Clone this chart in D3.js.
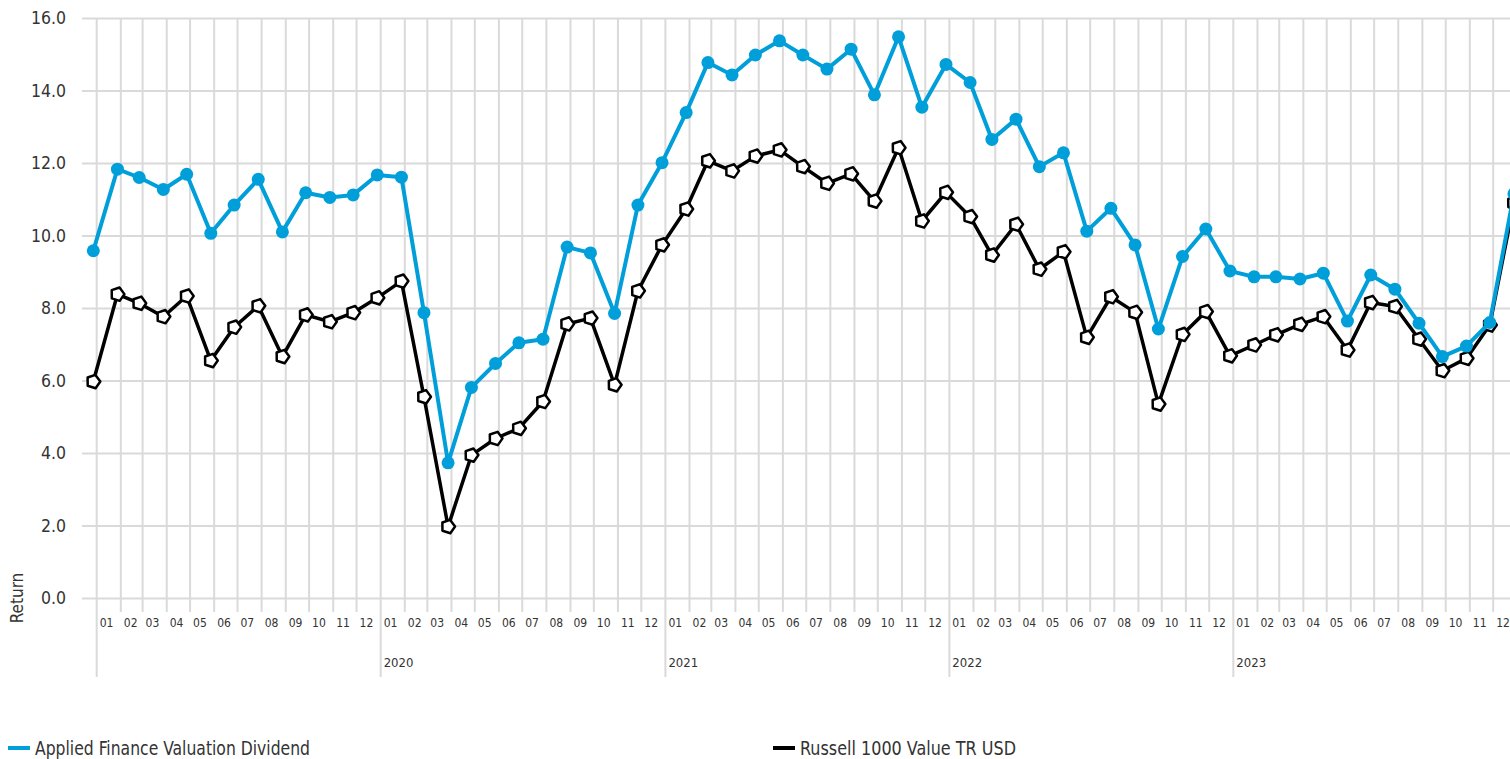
<!DOCTYPE html>
<html>
<head>
<meta charset="utf-8">
<script src="https://cdn.jsdelivr.net/npm/d3@7"></script>
<style>
  body { margin: 0; background: #fff; }
  text { font-family: "DejaVu Sans Condensed", "DejaVu Sans", sans-serif; font-stretch: condensed; fill: #333; }
</style>
</head>
<body>
<script>
// Data: month-end returns, Dec 2018 .. Dec 2023
var months = d3.range(0, 61).map(function (i) { return d3.timeFormat("%Y-%m")(new Date(2018, 11 + i, 1)); });

var afvd = [9.58, 11.83, 11.6, 11.27, 11.69, 10.06, 10.84, 11.55, 10.1, 11.18, 11.05, 11.12,
  11.67, 11.61, 7.87, 3.73, 5.81, 6.47, 7.04, 7.14, 9.68, 9.52, 7.85, 10.84,
  12.01, 13.39, 14.77, 14.43, 14.98, 15.37, 14.98, 14.59, 15.14, 13.88, 15.48, 13.54,
  14.72, 14.22, 12.65, 13.21, 11.9, 12.28, 10.12, 10.75, 9.74, 7.42, 9.42, 10.18,
  9.02, 8.86, 8.86, 8.8, 8.96, 7.64, 8.91, 8.52, 7.58, 6.66, 6.95, 7.6, 11.15];

var r1000v = [5.97, 8.38, 8.13, 7.76, 8.33, 6.55, 7.47, 8.06, 6.66, 7.81, 7.62, 7.87,
  8.28, 8.74, 5.55, 1.97, 3.94, 4.40, 4.68, 5.42, 7.56, 7.72, 5.88, 8.47,
  9.74, 10.73, 12.06, 11.78, 12.19, 12.36, 11.9, 11.44, 11.7, 10.95, 12.42, 10.4,
  11.19, 10.52, 9.46, 10.31, 9.07, 9.55, 7.19, 8.31, 7.88, 5.35, 7.27, 7.9,
  6.68, 6.98, 7.26, 7.55, 7.76, 6.84, 8.15, 8.04, 7.14, 6.27, 6.61, 7.53, 10.9];

var yTicks = [0, 2, 4, 6, 8, 10, 12, 14, 16];
var yearLabels = ["2020", "2021", "2022", "2023"];
var seriesNames = ["Applied Finance Valuation Dividend", "Russell 1000 Value TR USD"];

// Layout
var width = 1510, height = 759;
var plotLeft = 82, plotTop = 18, plotBottom = 598;
var blue = "#009fda";
var grid = "#dadada";

var parseMonth = d3.timeParse("%Y-%m");

var x = d3.scaleTime()
  .domain([new Date(2019, 0, 1), new Date(2024, 0, 1)])
  .range([96.7, 1517.3]);
var y = d3.scaleLinear().domain([0, 16]).range([plotBottom, plotTop]);

var svg = d3.select("body").append("svg")
  .attr("width", width)
  .attr("height", height);

// Horizontal grid + y labels
svg.append("g")
  .attr("transform", "translate(" + plotLeft + ",0)")
  .call(d3.axisLeft(y).tickValues(yTicks).tickFormat(d3.format(".1f"))
    .tickSize(-(width - plotLeft)).tickPadding(16))
  .call(function (g) {
    g.attr("font-family", null);
    g.select(".domain").remove();
    g.selectAll("line").attr("stroke", grid).attr("stroke-width", 2);
    g.selectAll("text").attr("font-size", 17.5).attr("fill", "#333");
  });

// Vertical month grid lines
var monthStarts = d3.timeMonth.range(new Date(2019, 0, 1), new Date(2024, 0, 1));

svg.append("g").selectAll("line")
  .data(monthStarts)
  .join("line")
  .attr("x1", function (d) { return x(d); })
  .attr("x2", function (d) { return x(d); })
  .attr("y1", plotTop)
  .attr("y2", function (d) { return d.getMonth() === 0 ? 677 : 612; })
  .attr("stroke", grid)
  .attr("stroke-width", 2);

// Month labels
svg.append("g").selectAll("text")
  .data(monthStarts)
  .join("text")
  .attr("x", function (d) { return x(d) + 3; })
  .attr("y", 627)
  .attr("font-size", 12)
  .text(d3.timeFormat("%m"));

// Year labels
svg.append("g").selectAll("text")
  .data(yearLabels)
  .join("text")
  .attr("x", function (d) { return x(new Date(+d, 0, 1)) + 3; })
  .attr("y", 667)
  .attr("font-size", 13)
  .text(function (d) { return d; });

// Y axis title
svg.append("text")
  .attr("transform", "translate(23," + plotBottom + ") rotate(-90)")
  .attr("text-anchor", "middle")
  .attr("font-size", 17)
  .text("Return");

// Points sit at month end, a little left of next month's grid line
var shift = -2.6;
function px(i) {
  var d = parseMonth(months[i]);
  return x(new Date(d.getFullYear(), d.getMonth() + 1, 0)) + shift;
}

var line = d3.line()
  .x(function (d, i) { return px(i); })
  .y(function (d) { return y(d); });

// Pentagon marker path
var pent = d3.range(5).map(function (k) {
  var a = -Math.PI / 2 + k * 2 * Math.PI / 5 + 0.3;
  return [7 * Math.cos(a), 7 * Math.sin(a)];
});
var pentPath = "M" + pent.join("L") + "Z";

// Benchmark series
svg.append("path")
  .datum(r1000v)
  .attr("fill", "none")
  .attr("stroke", "#000")
  .attr("stroke-width", 3.5)
  .attr("stroke-linejoin", "round")
  .attr("d", line);

svg.append("g").selectAll("path")
  .data(r1000v)
  .join("path")
  .attr("transform", function (d, i) { return "translate(" + px(i) + "," + y(d) + ")"; })
  .attr("d", pentPath)
  .attr("fill", "#fff")
  .attr("stroke", "#000")
  .attr("stroke-width", 2.5)
  .attr("stroke-linejoin", "round");

// Fund series
svg.append("path")
  .datum(afvd)
  .attr("fill", "none")
  .attr("stroke", blue)
  .attr("stroke-width", 4)
  .attr("stroke-linejoin", "round")
  .attr("d", line);

svg.append("g").selectAll("circle")
  .data(afvd)
  .join("circle")
  .attr("cx", function (d, i) { return px(i); })
  .attr("cy", function (d) { return y(d); })
  .attr("r", 6.5)
  .attr("fill", blue);

// Legend
var legendX = [8, 773];
var legendW = [275, 216];
var legend = svg.append("g").selectAll("g")
  .data(seriesNames)
  .join("g")
  .attr("transform", function (d, i) { return "translate(" + legendX[i] + ",0)"; });

legend.append("line")
  .attr("x1", 0).attr("x2", 22)
  .attr("y1", 748).attr("y2", 748)
  .attr("stroke", function (d, i) { return i === 0 ? blue : "#000"; })
  .attr("stroke-width", 4);

legend.append("text")
  .attr("x", 27)
  .attr("y", 755)
  .attr("font-size", 19)
  .attr("textLength", function (d, i) { return legendW[i]; })
  .attr("lengthAdjust", "spacingAndGlyphs")
  .text(function (d) { return d; });
</script>
</body>
</html>
